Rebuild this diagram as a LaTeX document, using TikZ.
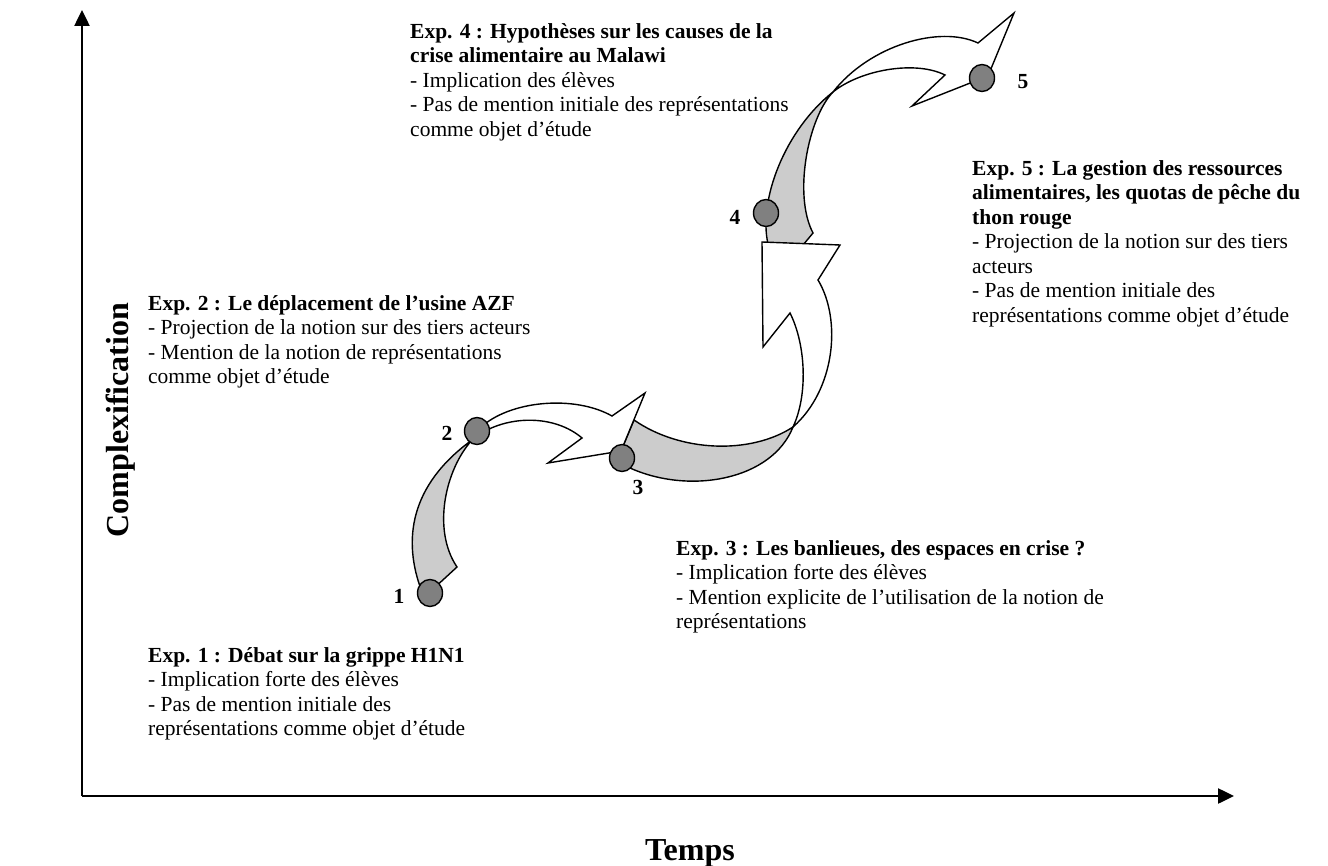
\documentclass[tikz,border=0pt]{standalone}
\usepackage{fontspec}
\setmainfont{Liberation Serif}
\usetikzlibrary{arrows.meta,shapes.geometric}
\definecolor{bandgray}{RGB}{204,204,204}
\definecolor{dotgray}{RGB}{128,128,128}
\tikzset{
  axis/.style={line width=2.5pt,-{Triangle[length=16pt,width=15pt]}},
  band/.style={draw=black,line width=1.4pt,fill=bandgray,line join=miter},
  ribbon/.style={draw=black,line width=1.4pt,fill=white,line join=miter},
  dot/.style={ellipse,draw=black,line width=1.4pt,fill=dotgray,minimum width=25pt,minimum height=27pt,inner sep=0pt},
  num/.style={font=\fontsize{21.5}{24.5}\selectfont\bfseries,inner sep=0pt},
  txt/.style={font=\fontsize{21.5}{24.5}\selectfont,align=left,anchor=north west,inner sep=0pt},
  axlabel/.style={font=\fontsize{32}{36}\selectfont\bfseries,inner sep=0pt,anchor=base}
}
\begin{document}
\begin{tikzpicture}[x=1pt,y=-1pt]
\useasboundingbox (0,0) rectangle (1328,866);
% axes
\coordinate (O) at (82,796);
\coordinate (Ytop) at (82,10);
\coordinate (Xend) at (1234,796);
\draw[axis] (O) -- (Ytop);
\draw[axis] (O) -- (Xend);
\node[axlabel,rotate=90] (ylab) at (128,420) {Complexification};
\node[axlabel] (xlab) at (690,860) {Temps};

% grey bands
\draw[band] (432,590) -- (422,592) .. controls (402,540) and (410,485) .. (472,440)
   .. controls (445,470) and (432,530) .. (457,567) -- cycle;
\draw[band] (634,420) .. controls (680,452) and (750,455) .. (793,427)
   .. controls (772,480) and (690,495) .. (630,468) -- (621,451) -- cycle;
\draw[band] (768,244) .. controls (758,200) and (785,130) .. (833,92)
   .. controls (808,118) and (793,195) .. (813,233) -- (803,245) -- cycle;

% white ribbons with heads
\draw[ribbon] (480,428) .. controls (510,400) and (575,395) .. (612,416) -- (645,393) -- (621,451)
   -- (548,463) -- (582,438) .. controls (555,415) and (510,415) .. (480,434) -- cycle;
\draw[ribbon] (793,427) .. controls (835,390) and (842,320) .. (818,280) -- (840,245) -- (762,242)
   -- (763,347) -- (790,313) .. controls (806,345) and (808,395) .. (793,427) -- cycle;
\draw[ribbon] (833,92) .. controls (870,45) and (940,25) .. (978,43) -- (1014,13) -- (988,76)
   -- (912,106) -- (945,75) .. controls (915,60) and (860,70) .. (833,92) -- cycle;

% dots
\node[dot] (d1) at (430,593) {};
\node[dot] (d2) at (477,431) {};
\node[dot] (d3) at (622,458) {};
\node[dot] (d4) at (766,213) {};
\node[dot] (d5) at (982,78) {};
\node[num] (n1) at (399,596) {1};
\node[num] (n2) at (447,433) {2};
\node[num] (n3) at (638,487) {3};
\node[num] (n4) at (735,217) {4};
\node[num] (n5) at (1023,82) {5};

% texts
\node[txt] (e4) at (410,23) {\textbf{Exp. 4 : Hypothèses sur les causes de la}\\
\textbf{crise alimentaire au Malawi}\\
- Implication des élèves\\
- Pas de mention initiale des représentations\\
comme objet d’étude};
\node[txt] (e5) at (972,160) {\textbf{Exp. 5 : La gestion des ressources}\\
\textbf{alimentaires, les quotas de pêche du}\\
\textbf{thon rouge}\\
- Projection de la notion sur des tiers\\
acteurs\\
- Pas de mention initiale des\\
représentations comme objet d’étude};
\node[txt] (e2) at (148,295) {\textbf{Exp. 2 : Le déplacement de l’usine AZF}\\
- Projection de la notion sur des tiers acteurs\\
- Mention de la notion de représentations\\
comme objet d’étude};
\node[txt] (e3) at (676,540) {\textbf{Exp. 3 : Les banlieues, des espaces en crise ?}\\
- Implication forte des élèves\\
- Mention explicite de l’utilisation de la notion de\\
représentations};
\node[txt] (e1) at (148,647) {\textbf{Exp. 1 : Débat sur la grippe H1N1}\\
- Implication forte des élèves\\
- Pas de mention initiale des\\
représentations comme objet d’étude};
\end{tikzpicture}
\end{document}
